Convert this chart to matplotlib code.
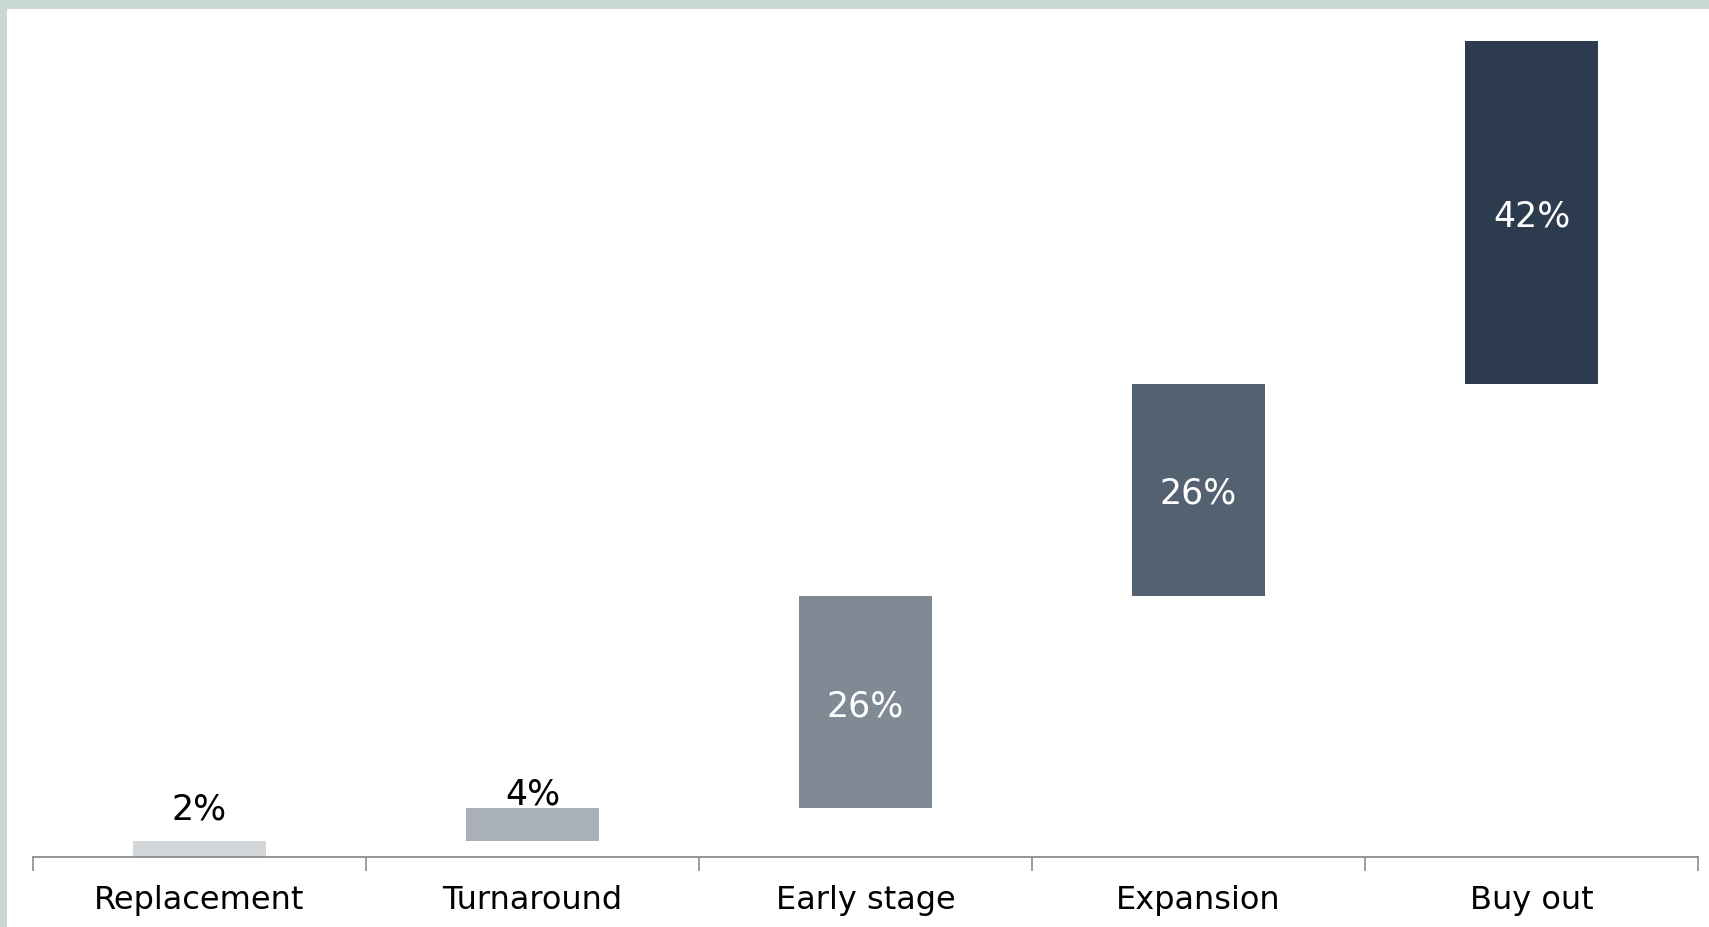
import matplotlib
matplotlib.use("Agg")
import matplotlib.pyplot as plt
from matplotlib.patches import Rectangle

categories = ["Replacement", "Turnaround", "Early stage", "Expansion", "Buy out"]
values = [2, 4, 26, 26, 42]
labels = ["2%", "4%", "26%", "26%", "42%"]
colors = ["#d4d7da", "#a9b0b8", "#808a95", "#546170", "#2c3c4e"]

W, H = 1709, 927
fig = plt.figure(figsize=(W / 100, H / 100), dpi=100)
fig.patch.set_facecolor("#c9d8d0")
# white panel leaving a greenish border on top and left
fig.patches.append(Rectangle((7 / W, 0), 1 - 7 / W, 1 - 9 / H, transform=fig.transFigure,
                             facecolor="white", edgecolor="none", zorder=-10))

ax = fig.add_axes([33 / W, 1 - 857 / H, (1698 - 33) / W, (857 - 41) / H])
ax.set_facecolor("none")
ax.set_zorder(5)

bottoms = []
acc = 0
for v in values:
    bottoms.append(acc)
    acc += v

x = list(range(len(categories)))
ax.bar(x, values, bottom=bottoms, width=0.4, color=colors, edgecolor="none")

outside_offsets = {0: 3.8, 1: 1.6}
for i, (v, b, lab) in enumerate(zip(values, bottoms, labels)):
    if v >= 10:
        ax.text(i, b + v / 2 - 0.5, lab, ha="center", va="center", color="white", fontsize=25)
    else:
        ax.text(i, b + v + outside_offsets[i], lab, ha="center", va="center",
                color="black", fontsize=25)

ax.set_xlim(-0.5, len(categories) - 0.5)
ax.set_ylim(0, 100)
ax.set_yticks([])
for s in ["top", "right", "left"]:
    ax.spines[s].set_visible(False)
ax.spines["bottom"].set_color("#8c8c8c")
ax.spines["bottom"].set_linewidth(1.3)

ax.set_xticks([i - 0.5 for i in range(len(categories) + 1)], minor=False)
ax.set_xticklabels([""] * (len(categories) + 1))
ax.tick_params(axis="x", which="major", length=10, width=1.2, color="#8c8c8c")
ax.set_xticks(x, minor=True)
ax.set_xticklabels(categories, minor=True, fontsize=23)
ax.tick_params(axis="x", which="minor", length=0, pad=20)

fig.savefig("out.png", dpi=100)
